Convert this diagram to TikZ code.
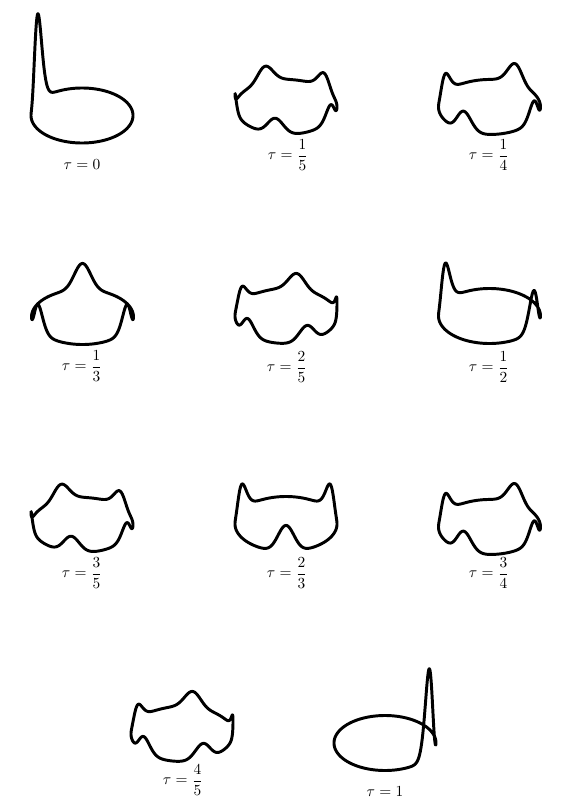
\documentclass[tikz,border=0pt]{standalone}
\usepackage{amsmath}
\usepackage{tikz}
\usetikzlibrary{calc}

\pgfmathdeclarefunction{bump}{3}{%
  \pgfmathparse{exp(-min(((mod(#1-#2+540,360)-180)/#3)^2/2,15))}%
}
\newcommand{\ring}[4]{%
  \pgfmathsetmacro{\wid}{#3>1 ? 9 : 8}%
  \pgfmathsetmacro{\hgt}{88*8/\wid/#3}%
  \draw[wave] plot[domain=0:360, samples=361]
    ({#1+51*cos(\x)},
     {#2-27.5*sin(\x)-\hgt*(bump(\x,#4,\wid)
       +(1<#3)*bump(\x,mod(#4+360/#3,360),\wid)
       +(2<#3)*bump(\x,mod(#4+720/#3,360),\wid)
       +(3<#3)*bump(\x,mod(#4+1080/#3,360),\wid)
       +(4<#3)*bump(\x,mod(#4+1440/#3,360),\wid))});
}

\begin{document}
\begin{tikzpicture}[x=0.025cm, y=-0.025cm, line cap=round, line join=round,
  wave/.style={line width=2.1pt},
  lab/.style={font=\fontsize{11}{13}\selectfont}]
\useasboundingbox (0,0) rectangle (578,811);

\ring{82}{115.5}{1}{150}
\ring{286}{107}{5}{186}
\ring{489.5}{107}{4}{150}
\ring{82.5}{317}{3}{90}
\ring{286}{316}{5}{150}
\ring{489.5}{316}{2}{150}
\ring{82}{525}{5}{186}
\ring{286}{524}{3}{30}
\ring{489.5}{527}{4}{150}
\ring{182}{734}{5}{150}
\ring{385}{743}{1}{330}

\node[lab] (t0) at (82,165) {$\tau = 0$};
\node[lab] (t15) at (288,155) {$\tau = \dfrac{1}{5}$};
\node[lab] (t14) at (489,155) {$\tau = \dfrac{1}{4}$};
\node[lab] (t13) at (82,366) {$\tau = \dfrac{1}{3}$};
\node[lab] (t25) at (287,367) {$\tau = \dfrac{2}{5}$};
\node[lab] (t12) at (489,367) {$\tau = \dfrac{1}{2}$};
\node[lab] (t35) at (82,573) {$\tau = \dfrac{3}{5}$};
\node[lab] (t23) at (287,573) {$\tau = \dfrac{2}{3}$};
\node[lab] (t34) at (489,573) {$\tau = \dfrac{3}{4}$};
\node[lab] (t45) at (183,780) {$\tau = \dfrac{4}{5}$};
\node[lab] (t1) at (385,792) {$\tau = 1$};

\end{tikzpicture}
\end{document}
